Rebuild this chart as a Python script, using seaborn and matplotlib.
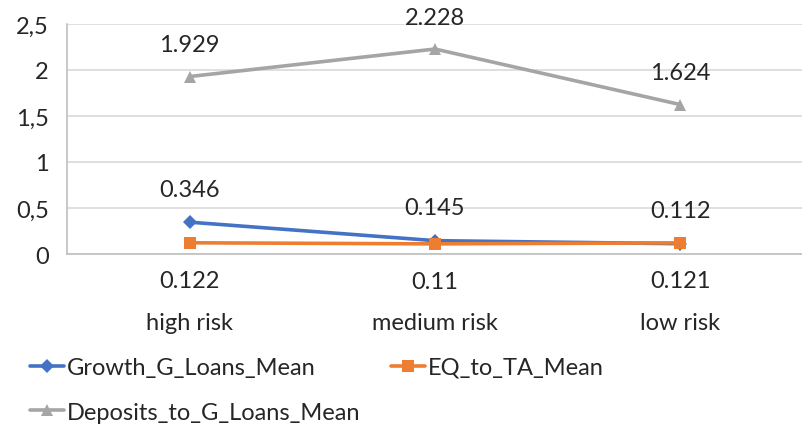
import pandas as pd
import matplotlib.pyplot as plt
import matplotlib.ticker as mticker
import seaborn as sns

# chart values
categories = ['high risk', 'medium risk', 'low risk']
growth_loans = [0.346, 0.145, 0.112]
eq_to_ta = [0.122, 0.11, 0.121]
deposits_to_loans = [1.929, 2.228, 1.624]
series_names = ['Growth_G_Loans_Mean', 'EQ_to_TA_Mean', 'Deposits_to_G_Loans_Mean']
y_ticks = [0, 0.5, 1, 1.5, 2, 2.5]

df = pd.DataFrame({
    'risk': categories * 3,
    'value': growth_loans + eq_to_ta + deposits_to_loans,
    'series': [s for s in series_names for _ in categories],
})

sns.set_style('white')
plt.rcParams['font.family'] = ['Lato', 'DejaVu Sans']
FS = 17

colors = {'Growth_G_Loans_Mean': '#4472C4',
          'EQ_to_TA_Mean': '#ED7D31',
          'Deposits_to_G_Loans_Mean': '#A5A5A5'}
markers = {'Growth_G_Loans_Mean': 'D',
           'EQ_to_TA_Mean': 's',
           'Deposits_to_G_Loans_Mean': '^'}
msize = {'Growth_G_Loans_Mean': 7,
         'EQ_to_TA_Mean': 8.5,
         'Deposits_to_G_Loans_Mean': 9}

fig = plt.figure(figsize=(8.03, 4.31), dpi=100)
ax = fig.add_axes([67 / 803, 1 - 255 / 431, 1 - 67 / 803, 230 / 431])

for name in series_names:
    sub = df[df['series'] == name]
    sns.lineplot(data=sub, x='risk', y='value', ax=ax, color=colors[name],
                 marker=markers[name], markersize=msize[name],
                 markeredgewidth=0, linewidth=2.6, label=name, sort=False)

# data labels
px = 72 / 100
for i, v in enumerate(growth_loans):
    ax.annotate(f'{v:g}', (i, v), xytext=(0, 33 * px), textcoords='offset points',
                ha='center', va='center', fontsize=FS)
for i, v in enumerate(deposits_to_loans):
    ax.annotate(f'{v:g}', (i, v), xytext=(0, 32 * px), textcoords='offset points',
                ha='center', va='center', fontsize=FS)
for i, v in enumerate(eq_to_ta):
    ax.annotate(f'{v:g}', (i, v), xytext=(0, -38 * px), textcoords='offset points',
                ha='center', va='center', fontsize=FS)

ax.set_xlim(-0.5, 2.5)
ax.set_ylim(0, 2.5)
ax.set_yticks(y_ticks)
ax.yaxis.set_major_formatter(mticker.FuncFormatter(lambda v, p: f'{v:g}'.replace('.', ',')))
ax.grid(axis='y', color='#d9d9d9', linewidth=1.2)
ax.set_axisbelow(True)

ax.set_xticks(range(len(categories)))
ax.set_xticklabels(categories)
ax.set_xticks([-0.5, 0.5, 1.5, 2.5], minor=True)
ax.tick_params(axis='x', which='major', length=0, pad=42, labelsize=FS)
ax.tick_params(axis='x', which='minor', length=6, color='#bfbfbf', width=1.2, direction='out')
ax.tick_params(axis='y', length=7, color='#d9d9d9', width=1.2, direction='out', pad=6, labelsize=FS)

for side in ['top', 'right']:
    ax.spines[side].set_visible(False)
for side in ['left', 'bottom']:
    ax.spines[side].set_color('#bfbfbf')
    ax.spines[side].set_linewidth(1.2)

ax.set_xlabel('')
ax.set_ylabel('')

handles, labels = ax.get_legend_handles_labels()
order = [0, 2, 1]
ax.legend([handles[i] for i in order], [labels[i] for i in order], ncol=2,
          loc='upper left', bbox_to_anchor=(30 / 803, 1 - 358 / 431), bbox_transform=fig.transFigure,
          frameon=False, fontsize=FS, handlelength=1.45, handletextpad=0.1,
          columnspacing=1.3, labelspacing=1.0, borderaxespad=0, borderpad=0)

fig.savefig('out.png', dpi=100)
